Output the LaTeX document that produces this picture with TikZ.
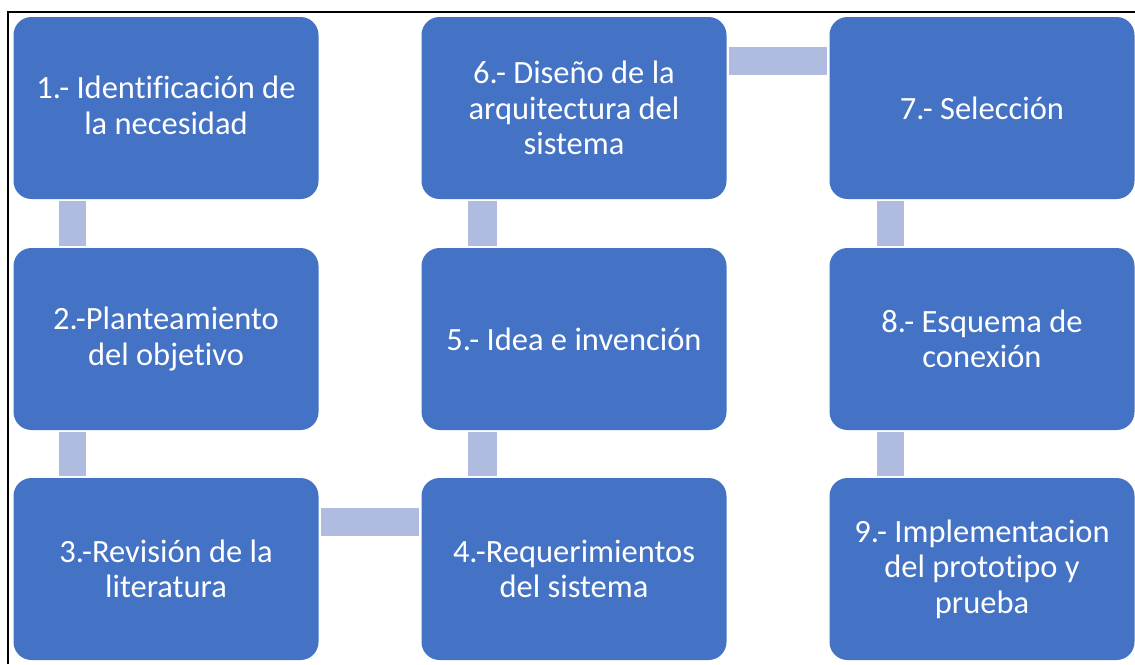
\documentclass[tikz,border=0pt]{standalone}
\usepackage{fontspec}
\setmainfont{Carlito}[Ligatures={NoCommon}]
\definecolor{boxblue}{HTML}{4472C4}
\definecolor{linkblue}{HTML}{B0BCDF}
\begin{document}
\begin{tikzpicture}[x=1pt,y=-1pt,
  stepbox/.style={rectangle, rounded corners=18pt, fill=boxblue, draw=none,
    minimum width=305pt, minimum height=182pt, inner sep=0pt, align=center,
    text=white, font=\fontsize{32.5}{35.5}\selectfont},
  link/.style={fill=linkblue, draw=none}]
\useasboundingbox[fill=white] (0,0) rectangle (1135,664);
\draw[line width=2pt, black] (8,664) -- (8,12) -- (1135,12);
\node[stepbox] (n1) at (166,108) {1.- Identificación de\\la necesidad\vphantom{p}};
\node[stepbox] (n2) at (166,339) {2.-Planteamiento\\del objetivo};
\node[stepbox] (n3) at (166,569) {3.-Revisión de la\\literatura};
\node[stepbox] (n4) at (574,569) {4.-Requerimientos\\del sistema};
\node[stepbox] (n5) at (574,339) {5.- Idea e invención};
\node[stepbox] (n6) at (574,108) {6.- Diseño de la\\arquitectura del\\sistema};
\node[stepbox] (n7) at (982,108) {7.- Selección};
\node[stepbox] (n8) at (982,339) {8.- Esquema de\\conexión};
\node[stepbox] (n9) at (982,569) {9.- Implementacion\\del prototipo y\\prueba};
% connectors
\path[link] ([xshift=46pt,yshift=-2pt]n1.south west) rectangle ([xshift=73pt,yshift=2pt]n2.north west);
\path[link] ([xshift=46pt,yshift=-2pt]n2.south west) rectangle ([xshift=73pt,yshift=2pt]n3.north west);
\path[link] ([xshift=2pt,yshift=-30pt]n3.north east) rectangle ([xshift=-2pt,yshift=-58pt]n4.north west);
\path[link] ([xshift=47pt,yshift=2pt]n4.north west) rectangle ([xshift=76pt,yshift=-2pt]n5.south west);
\path[link] ([xshift=47pt,yshift=2pt]n5.north west) rectangle ([xshift=76pt,yshift=-2pt]n6.south west);
\path[link] ([xshift=2pt,yshift=-30pt]n6.north east) rectangle ([xshift=-2pt,yshift=-58pt]n7.north west);
\path[link] ([xshift=48pt,yshift=-2pt]n7.south west) rectangle ([xshift=75pt,yshift=2pt]n8.north west);
\path[link] ([xshift=48pt,yshift=-2pt]n8.south west) rectangle ([xshift=75pt,yshift=2pt]n9.north west);
\end{tikzpicture}
\end{document}
